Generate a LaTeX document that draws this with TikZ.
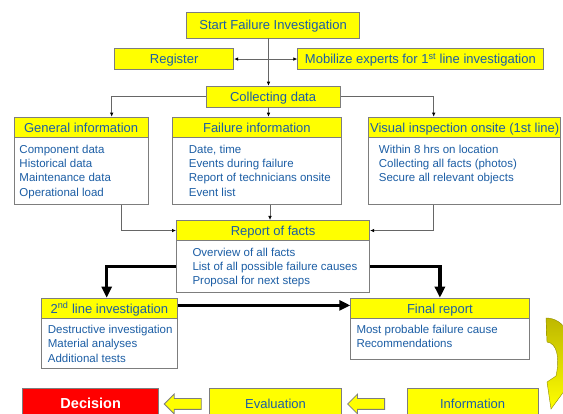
\documentclass[tikz,border=0pt]{standalone}
\usepackage{fontspec}
\setmainfont{Liberation Sans}
\usetikzlibrary{arrows.meta,shapes.arrows,calc}
\definecolor{txtblue}{RGB}{28,94,165}
\definecolor{boxgray}{RGB}{125,125,125}
\definecolor{ylw}{RGB}{255,255,0}
\definecolor{olivey}{RGB}{190,184,0}
\begin{document}
\begin{tikzpicture}[x=1pt,y=-1pt,
  hdr/.style={draw=boxgray, line width=0.8pt, fill=ylw, inner sep=0pt, anchor=north west, text=txtblue, font=\fontsize{13}{15}\selectfont, text height=9.4pt, text depth=0pt},
  bodybox/.style={draw=boxgray, line width=0.8pt, fill=white, inner sep=0pt, anchor=north west},
  bodytxt/.style={inner sep=0pt, anchor=north west, align=left, text=txtblue, font=\fontsize{11.5}{14.3}\selectfont},
  conn/.style={draw=black!60, line width=0.7pt, -{Latex[length=4pt,width=3.6pt,color=black]}},
  bothconn/.style={draw=black!60, line width=0.7pt, {Latex[length=4pt,width=3.6pt,color=black]}-{Latex[length=4pt,width=3.6pt,color=black]}},
  thickarr/.style={draw=black, line width=3.3pt, -{Triangle[length=11pt,width=10pt]}},
  blockarr/.style={single arrow, shape border rotate=180, minimum height=37pt, single arrow head extend=4.5pt, inner sep=0pt, fill=ylw, draw=boxgray, line width=0.8pt}
]
\useasboundingbox (0,0) rectangle (563,414);
\fill[white] (0,0) rectangle (563,414);

% top
\node[hdr, minimum width=173.3pt, minimum height=25.7pt] (start) at (186,12) {Start Failure Investigation};
\node[hdr, minimum width=119pt, minimum height=20.7pt] (reg) at (114.3,48.3) {Register};
\node[hdr, minimum width=245.4pt, minimum height=20.7pt] (mob) at (297.3,48.3) {Mobilize experts for 1\textsuperscript{st} line investigation};
\node[hdr, minimum width=134pt, minimum height=21pt] (col) at (205.7,85.7) {Collecting data};

% second row
\node[hdr, minimum width=134pt, minimum height=20.6pt] (gen) at (13.7,116.7) {General information};
\node[bodybox, minimum width=134pt, minimum height=66.7pt] (genb) at (13.7,137.3) {};
\node[bodytxt] (gent) at (19.3,144.6) {Component data\\Historical data\\Maintenance data\\Operational load};

\node[hdr, minimum width=168.4pt, minimum height=20.6pt] (fail) at (172.3,116.7) {Failure information};
\node[bodybox, minimum width=168.4pt, minimum height=66.7pt] (failb) at (172.3,137.3) {};
\node[bodytxt] (failt) at (188.7,144.6) {Date, time\\Events during failure\\Report of technicians onsite\\Event list};

\node[hdr, minimum width=192pt, minimum height=20.6pt] (vis) at (368.3,116.7) {Visual inspection onsite (1st line)};
\node[bodybox, minimum width=192pt, minimum height=66.7pt] (visb) at (368.3,137.3) {};
\node[bodytxt] (vist) at (378.7,144.6) {Within 8 hrs on location\\Collecting all facts (photos)\\Secure all relevant objects};

% report
\node[hdr, minimum width=193.3pt, minimum height=20.3pt] (rep) at (176,220) {Report of facts};
\node[bodybox, minimum width=193.3pt, minimum height=52pt] (repb) at (176,240.3) {};
\node[bodytxt] (rept) at (192.3,247.6) {Overview of all facts\\List of all possible failure causes\\Proposal for next steps};

% 2nd line / final
\node[hdr, minimum width=135.4pt, minimum height=20.6pt] (sec) at (41.3,297.7) {2\textsuperscript{nd} line investigation};
\node[bodybox, minimum width=135.4pt, minimum height=50pt] (secb) at (41.3,318.3) {};
\node[bodytxt] (sect) at (47.7,324.9) {Destructive investigation\\Material analyses\\Additional tests};

\node[hdr, minimum width=178.4pt, minimum height=20.6pt] (fin) at (350.3,297.7) {Final report};
\node[bodybox, minimum width=178.4pt, minimum height=40.4pt] (finb) at (350.3,318.3) {};
\node[bodytxt] (fint) at (356.3,324.9) {Most probable failure cause\\Recommendations};

% bottom row
\node[hdr, fill=red, text=white, minimum width=136pt, minimum height=31pt, font=\fontsize{14.5}{16}\selectfont\bfseries, text height=10.5pt] (dec) at (22.3,387.7) {Decision};
\node[hdr, minimum width=131.7pt, minimum height=31pt] (eva) at (209.3,387.7) {Evaluation};
\node[hdr, minimum width=131pt, minimum height=31pt] (inf) at (406.7,387.7) {Information};
\node[blockarr] (ba1) at (185.5,404) {\rule{0pt}{10pt}};
\node[blockarr] (ba2) at (368.8,404) {\rule{0pt}{10pt}};

% curved arrow
\shade[top color=olivey, bottom color=ylw, middle color=olivey!50!ylw, draw=olivey!75!black, line width=0.4pt]
  (546,318) .. controls (564,318) and (575,338) .. (572,362)
  -- (576,375) -- (551,409) -- (547,382) -- (556,376)
  .. controls (560,358) and (557,343) .. (547,342) -- cycle;

% connectors
\coordinate (cx) at (268.5,0);
\coordinate (cx2) at (270,0);
\coordinate (gl) at (111.7,116.7);
\coordinate (gr) at (433.7,116.7);
\coordinate (gbl) at (121.7,0);
\coordinate (tl) at (106.7,0);
\draw[conn] (start.south -| cx) -- (col.north -| cx);
\draw[bothconn] (reg.east) -- (mob.west);
\draw[conn] (col.west) -| (gl);
\draw[conn] (col.east) -| (gr);
\draw[conn] (col.south -| cx) -- (fail.north -| cx);
\draw[conn] (failb.south -| cx2) -- (rep.north -| cx2);
\draw[conn] (genb.south -| gbl) |- (rep.west);
\draw[conn] (visb.south -| gr) |- (rep.east);
\draw[thickarr] (repb.west) -| (sec.north -| tl);
\draw[thickarr] (repb.east) -| (fin.north);
\draw[thickarr] ([yshift=3pt]sec.east) -- ([yshift=3pt]fin.west);
\end{tikzpicture}
\end{document}
